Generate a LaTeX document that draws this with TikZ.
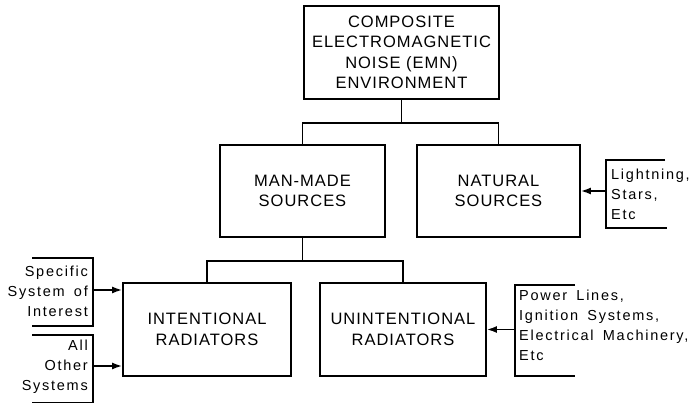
\documentclass[tikz,border=0pt]{standalone}
\usepackage{fontspec}
\setmainfont{Liberation Sans}
\newfontfamily\boxfont[LetterSpace=6]{Liberation Sans}
\newfontfamily\notefont[LetterSpace=12,WordSpace=1.6]{Liberation Sans}
\usetikzlibrary{arrows.meta}
\begin{document}
\begin{tikzpicture}[x=1pt,y=1pt,
  blk/.style={draw, line width=1.7pt, inner sep=0pt, align=center,
    font=\boxfont\fontsize{16.5}{20.5}\selectfont},
  note/.style={inner sep=0pt, font=\notefont\fontsize{14.5}{20}\selectfont},
  conn/.style={line width=1.7pt},
  arr/.style={line width=1.7pt, -{Latex[length=10pt,width=7pt]}}]
\useasboundingbox (0,0) rectangle (693,404);

% boxes
\node[blk, minimum width=195pt, minimum height=93pt] (top) at (401.5,351.5)
  {COMPOSITE\\ELECTROMAGNETIC\\NOISE (EMN)\\ENVIRONMENT};
\node[blk, minimum width=165pt, minimum height=92pt] (man) at (302.5,213)
  {MAN-MADE\\SOURCES};
\node[blk, minimum width=163pt, minimum height=92pt] (nat) at (498.5,213)
  {NATURAL\\SOURCES};
\node[blk, minimum width=168pt, minimum height=93pt] (int) at (207,74.5)
  {INTENTIONAL\\RADIATORS};
\node[blk, minimum width=166pt, minimum height=93pt] (unint) at (403,74.5)
  {UNINTENTIONAL\\RADIATORS};

% tree connectors
\coordinate (j1) at (401.5,281);
\draw[conn] (top.south) -- (j1);
\draw[conn] (man.north) |- (j1) -| (nat.north);
\coordinate (j2) at (302.5,143);
\draw[conn] (man.south) -- (j2);
\draw[conn] (int.north) |- (j2) -| (unint.north);

% natural sources bracket
\node[note, anchor=west, align=left] (ltxt) at (611,210) {Lightning,\\Stars,\\Etc};
\coordinate (nb) at (606,213);
\draw[conn] (665,244) -- (606,244) -- (606,176) -- (667,176);
\draw[arr] (nb) -- (nat.east);

% unintentional bracket
\node[note, anchor=west, align=left] (ptxt) at (519,79)
  {Power Lines,\\Ignition Systems,\\Electrical Machinery,\\Etc};
\coordinate (ub) at (515,74.5);
\draw[conn] (575,119) -- (515,119) -- (515,28) -- (575,28);
\draw[arr] (ub) -- (unint.east);

% specific system bracket
\node[note, anchor=east, align=right] (stxt) at (88,113) {Specific\\System of\\Interest};
\coordinate (sb) at (93,114);
\draw[conn] (32,146) -- (93,146) -- (93,78) -- (32,78);
\draw[arr] (sb) -- (sb -| int.west);

% all other systems bracket
\node[note, anchor=east, align=right] (atxt) at (88,37) {All\\Other\\Systems};
\coordinate (ab) at (93,38);
\draw[conn] (32,69) -- (93,69) -- (93,1.5) -- (32,1.5);
\draw[arr] (ab) -- (ab -| int.west);
\end{tikzpicture}
\end{document}
